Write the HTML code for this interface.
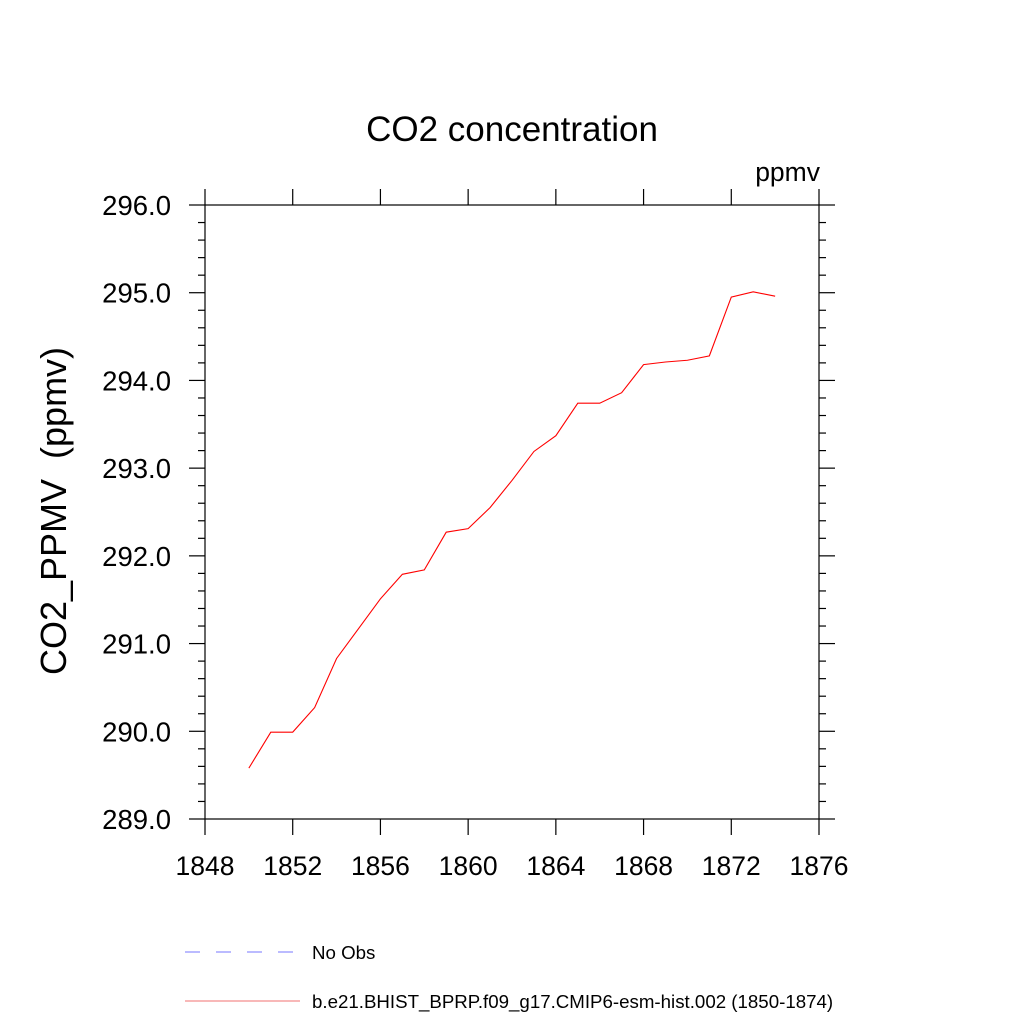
<!DOCTYPE html>
<html><head><meta charset="utf-8"><style>
body{margin:0;background:#fff;}
svg{display:block;font-family:"Liberation Sans",sans-serif;}
</style></head><body>
<svg id="chart" width="1024" height="1024">
<text x="512" y="141" font-size="35" text-anchor="middle">CO2 concentration</text>
<text x="820" y="181" font-size="26.5" text-anchor="end">ppmv</text>
<text transform="translate(66,511) rotate(-90)" font-size="36" text-anchor="middle" style="white-space:pre">CO2_PPMV  (ppmv)</text>
<rect x="205" y="205" width="614" height="614" fill="none" stroke="#000" stroke-width="1.2"/>
<g id="ticks"></g>
<path id="series" fill="none" stroke="#ff0000" stroke-width="1.1"/>
<line x1="185" y1="952" x2="300" y2="952" stroke="#7777ff" stroke-width="1" stroke-dasharray="15,16"/>
<text x="312" y="959" font-size="18.7">No Obs</text>
<line x1="185" y1="1001" x2="300" y2="1001" stroke="#f07070" stroke-width="1"/>
<text x="312" y="1008" font-size="18.7">b.e21.BHIST_BPRP.f09_g17.CMIP6-esm-hist.002 (1850-1874)</text>
</svg>
<script>
const years=[1850,1851,1852,1853,1854,1855,1856,1857,1858,1859,1860,1861,1862,1863,1864,1865,1866,1867,1868,1869,1870,1871,1872,1873,1874];
const co2=[289.58,289.99,289.99,290.27,290.83,291.17,291.51,291.79,291.84,292.27,292.31,292.55,292.86,293.19,293.37,293.74,293.74,293.86,294.18,294.21,294.23,294.28,294.95,295.01,294.96];
const xTicks=[1848,1852,1856,1860,1864,1868,1872,1876];
const yTicks=[289,290,291,292,293,294,295,296];
const yTickLabels=["289.0","290.0","291.0","292.0","293.0","294.0","295.0","296.0"];
const X0=205,X1=819,Y0=819,Y1=205;
const xs=v=>X0+(v-1848)/(1876-1848)*(X1-X0);
const ys=v=>Y0-(v-289)/(296-289)*(Y0-Y1);
const NS="http://www.w3.org/2000/svg";
const g=document.getElementById('ticks');
function ln(x1,y1,x2,y2,name){const l=document.createElementNS(NS,'line');
l.setAttribute('x1',x1);l.setAttribute('y1',y1);l.setAttribute('x2',x2);l.setAttribute('y2',y2);
l.setAttribute('stroke','#000');l.setAttribute('stroke-width','1.2');


g.appendChild(l);}
function tx(x,y,s,anchor,size,name){const t=document.createElementNS(NS,'text');
t.setAttribute('x',x);t.setAttribute('y',y);t.setAttribute('font-size',size);t.setAttribute('text-anchor',anchor);t.textContent=s;


g.appendChild(t);}
xTicks.forEach(v=>{const x=xs(v);
ln(x,Y0,x,Y0+16,'x-tick');ln(x,Y1,x,Y1-16,'x-tick-top');
tx(x,Y0+56,String(v),'middle','26.5','x-tick-label');});
yTicks.forEach((v,i)=>{const y=ys(v);
ln(X0,y,X0-16,y,'y-tick');ln(X1,y,X1+16,y,'y-tick-right');
tx(X0-34,y+10,yTickLabels[i],'end','27.5','y-tick-label');
if(i<yTicks.length-1){for(let k=1;k<5;k++){const ym=ys(v+k*0.2);
ln(X0,ym,X0-7,ym,'y-minor-tick');ln(X1,ym,X1+7,ym,'y-minor-tick-right');}}});
document.getElementById('series').setAttribute('d',years.map((yr,i)=>(i?'L':'M')+xs(yr).toFixed(2)+','+ys(co2[i]).toFixed(2)).join(' '));
</script>
</body></html>
